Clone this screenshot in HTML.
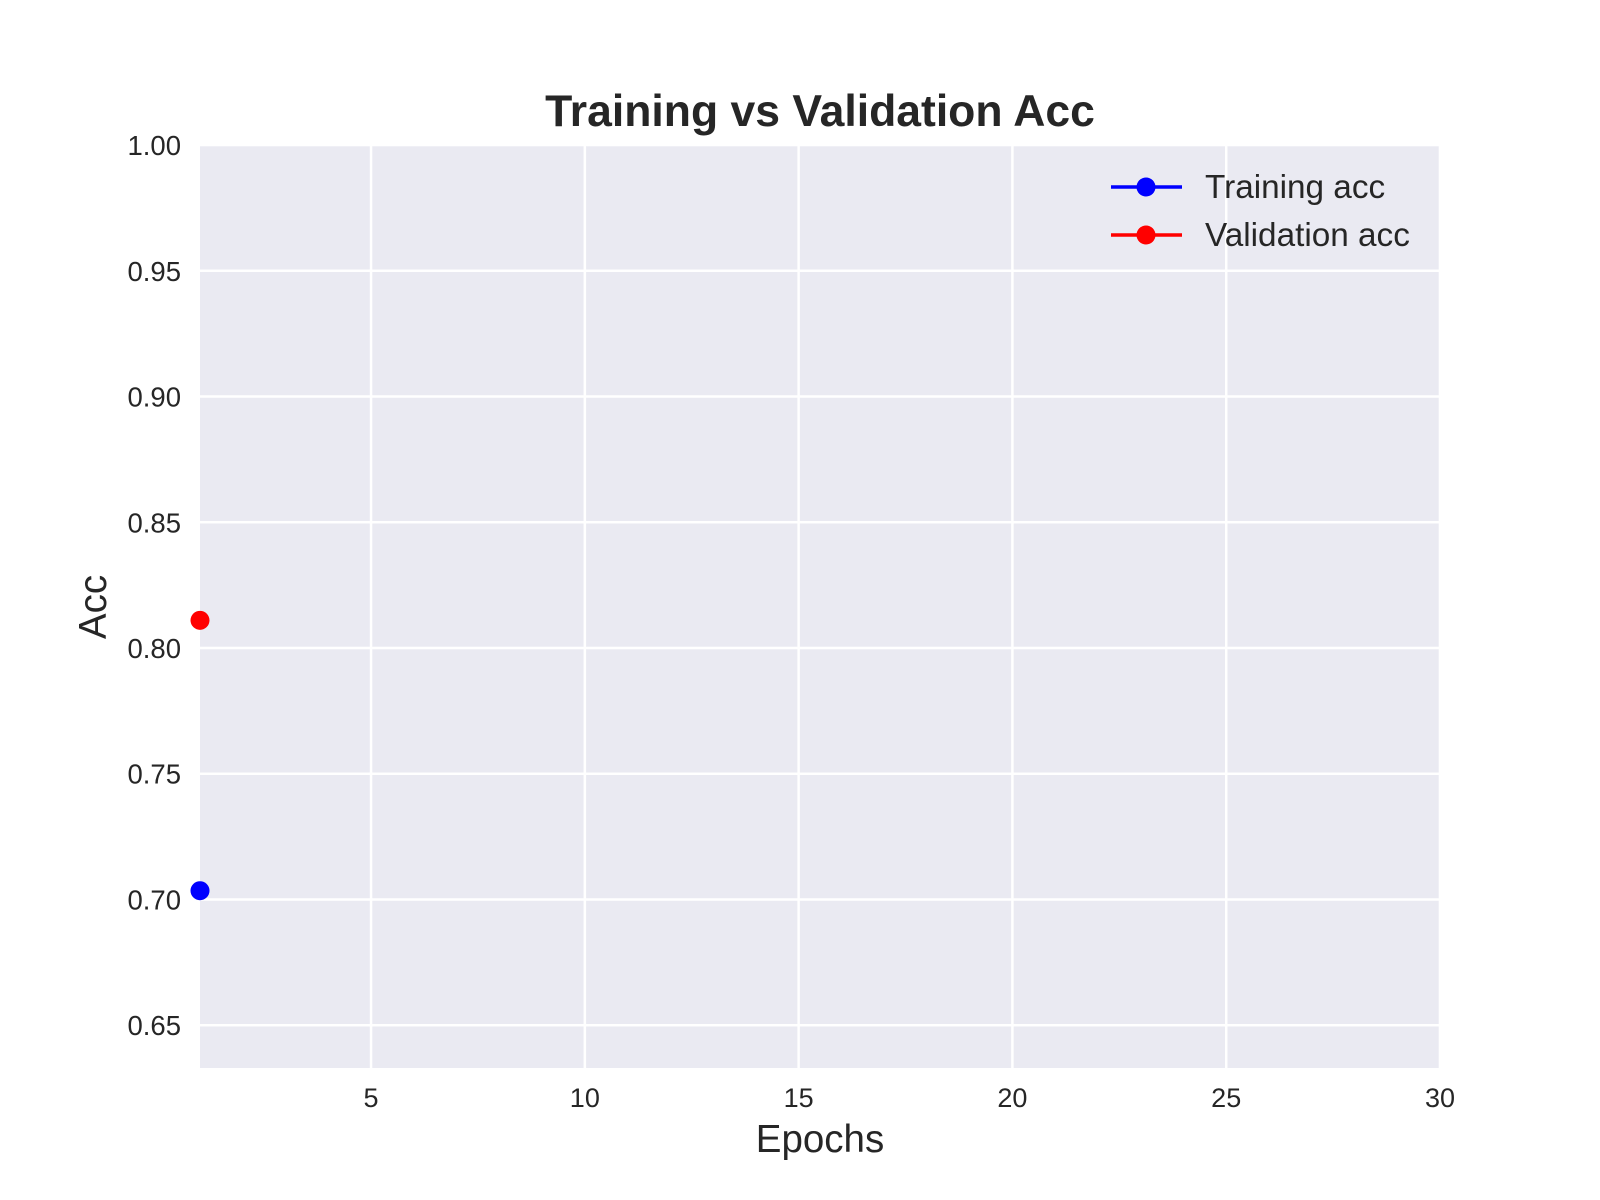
<!DOCTYPE html>
<html><head><meta charset="utf-8"><style>
html,body{margin:0;padding:0;background:#fff;}
svg{display:block;font-family:"Liberation Sans",sans-serif;}
</style></head><body>
<svg id="chart" width="1600" height="1200">
<rect x="200" y="144" width="1240" height="924" fill="#eaeaf2"/>
<g id="grid"></g>
<g id="ticks"></g>
<g id="marks"></g>
<text x="820" y="126" text-anchor="middle" font-size="44.5" font-weight="bold" fill="#262626">Training vs Validation Acc</text>
<text x="820" y="1152" text-anchor="middle" font-size="38.5" fill="#262626">Epochs</text>
<text transform="translate(106,607) rotate(-90)" text-anchor="middle" font-size="38.5" fill="#262626">Acc</text>
<g>
<line x1="1111" y1="187" x2="1182" y2="187" stroke="#0000ff" stroke-width="3.5"/>
<circle cx="1146" cy="187" r="9.5" fill="#0000ff"/>
<text x="1205" y="198" font-size="33.3" fill="#262626">Training acc</text>
<line x1="1111" y1="235" x2="1182" y2="235" stroke="#ff0000" stroke-width="3.5"/>
<circle cx="1146" cy="235" r="9.5" fill="#ff0000"/>
<text x="1205" y="246" font-size="33.3" fill="#262626">Validation acc</text>
</g>
</svg>
<script>
const epochs = [1];
const trainAcc = [0.7035];
const valAcc = [0.811];
const xTicks = [5, 10, 15, 20, 25, 30];
const yTicks = [0.65, 0.70, 0.75, 0.80, 0.85, 0.90, 0.95, 1.00];

const L=200,R=1440,T=144,B=1068;
const xMin=1,xMax=30,yMin=0.633,yMax=1.0004;
function sx(v){return L+(v-xMin)/(xMax-xMin)*(R-L);}
function sy(v){return B-(v-yMin)/(yMax-yMin)*(B-T);}
const NS="http://www.w3.org/2000/svg";
function mk(tag,attrs,parent){const e=document.createElementNS(NS,tag);for(const k in attrs)e.setAttribute(k,attrs[k]);parent.appendChild(e);return e;}
const grid=document.getElementById('grid'),ticks=document.getElementById('ticks'),marks=document.getElementById('marks');
xTicks.forEach(t=>{
  const l=mk('line',{x1:sx(t),x2:sx(t),y1:T,y2:B,stroke:'#fff','stroke-width':2.5},grid);
  
  
  const tx=mk('text',{x:sx(t),y:1107,'text-anchor':'middle','font-size':27,fill:'#262626'},ticks);
  tx.textContent=t;
  
  
});
yTicks.forEach(t=>{
  const l=mk('line',{x1:L,x2:R,y1:sy(t),y2:sy(t),stroke:'#fff','stroke-width':2.5},grid);
  
  
  const tx=mk('text',{x:181,y:sy(t)+10,'text-anchor':'end','font-size':27.5,fill:'#262626'},ticks);
  tx.textContent=t.toFixed(2);
  
  
});
function series(vals,color,name){
  const pts=vals.map((v,i)=>sx(epochs[i])+','+sy(v)).join(' ');
  const pl=mk('polyline',{points:pts,fill:'none',stroke:color,'stroke-width':3.5},marks);
  
  
  vals.forEach((v,i)=>{
    const c=mk('circle',{cx:sx(epochs[i]),cy:sy(v),r:9.5,fill:color},marks);
    
    
  });
}
series(trainAcc,'#0000ff','training-acc');
series(valAcc,'#ff0000','validation-acc');
</script>
</body></html>
